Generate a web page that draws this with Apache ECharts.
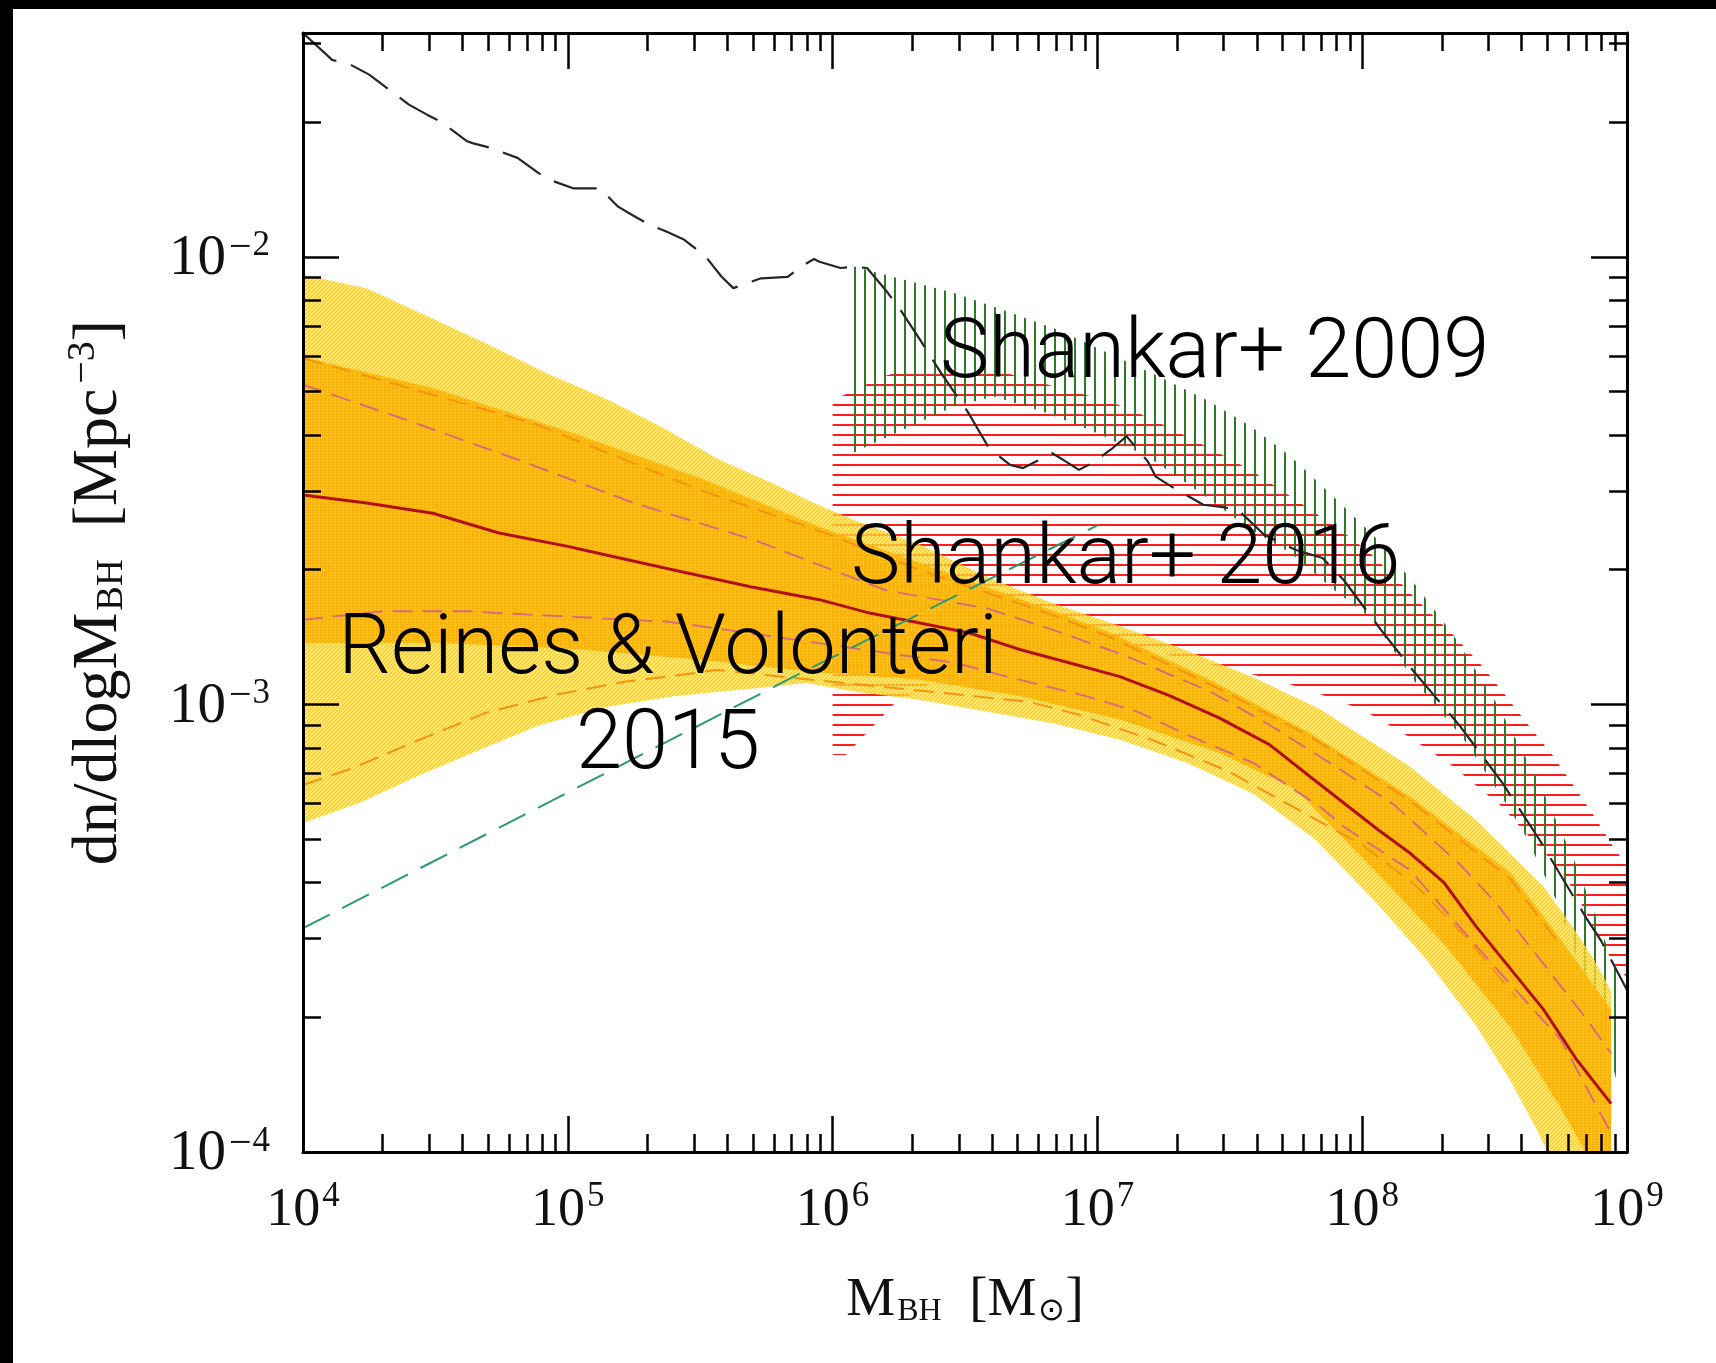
<!DOCTYPE html>
<html><head><meta charset="utf-8">
<script src="https://cdn.jsdelivr.net/npm/echarts@6/dist/echarts.min.js"></script>
<style>html,body{margin:0;padding:0;background:#fff}#c{width:1716px;height:1363px}</style>
</head><body><div id="c"></div>
<script>
// All values are log10(M_BH / Msun) and log10(dn/dlogM / Mpc^-3)
const xMajor = [4, 5, 6, 7, 8, 9];
const yMajor = [-4, -3, -2];

const blackDash = [[4.00,-1.50],[4.11,-1.56],[4.18,-1.571],[4.25,-1.593],[4.40,-1.66],[4.47,-1.683],[4.52,-1.698],[4.62,-1.742],[4.64,-1.746],[4.71,-1.757],[4.81,-1.779],[4.89,-1.813],[4.95,-1.832],[5.02,-1.847],[5.12,-1.847],[5.14,-1.858],[5.19,-1.888],[5.23,-1.902],[5.31,-1.929],[5.37,-1.943],[5.44,-1.962],[5.52,-1.999],[5.58,-2.044],[5.625,-2.07],[5.73,-2.048],[5.83,-2.045],[5.88,-2.022],[5.93,-2.005],[5.95,-2.011],[6.03,-2.025],[6.07,-2.023],[6.13,-2.025],[6.20,-2.074],[6.26,-2.122],[6.33,-2.185],[6.41,-2.26],[6.51,-2.346],[6.59,-2.427],[6.67,-2.465],[6.72,-2.472],[6.77,-2.457],[6.83,-2.439],[6.88,-2.457],[6.93,-2.476],[6.98,-2.461],[7.05,-2.431],[7.11,-2.401],[7.19,-2.457],[7.22,-2.491],[7.29,-2.517],[7.40,-2.554],[7.46,-2.558],[7.53,-2.565],[7.63,-2.621],[7.75,-2.655],[7.85,-2.673],[7.93,-2.722],[8.07,-2.833],[8.19,-2.923],[8.37,-3.049],[8.53,-3.176],[8.67,-3.303],[8.85,-3.481],[8.90,-3.526],[9.00,-3.638]];

const greenDash = [[4.00,-3.50],[5.88,-2.93],[7.00,-2.60]];

// Shankar+ 2009 (vertical hatch)
const greenUpper = [[6.07,-2.02],[6.27,-2.051],[6.46,-2.081],[6.66,-2.122],[6.85,-2.163],[7.04,-2.215],[7.23,-2.267],[7.42,-2.322],[7.58,-2.379],[7.73,-2.446],[7.885,-2.532],[8.04,-2.621],[8.19,-2.725],[8.34,-2.841],[8.50,-2.99],[8.66,-3.165],[8.80,-3.347],[8.92,-3.533],[8.97,-3.61]];
const greenLower = [[6.07,-2.44],[6.27,-2.385],[6.46,-2.334],[6.61,-2.312],[6.81,-2.349],[7.00,-2.394],[7.19,-2.446],[7.38,-2.524],[7.58,-2.61],[7.73,-2.662],[7.885,-2.74],[8.04,-2.811],[8.20,-2.95],[8.38,-3.075],[8.53,-3.209],[8.615,-3.291],[8.735,-3.44],[8.80,-3.548],[8.886,-3.682],[8.97,-3.86]];

// Shankar+ 2016 (horizontal hatch)
const redUpper = [[6.00,-2.319],[6.10,-2.295],[6.17,-2.27],[6.30,-2.25],[6.60,-2.25],[6.75,-2.275],[6.90,-2.30],[7.03,-2.32],[7.13,-2.342],[7.29,-2.387],[7.44,-2.433],[7.58,-2.477],[7.70,-2.524],[7.815,-2.569],[7.93,-2.616],[8.03,-2.662],[8.13,-2.72],[8.23,-2.78],[8.344,-2.845],[8.45,-2.912],[8.54,-2.979],[8.63,-3.048],[8.72,-3.115],[8.80,-3.183],[8.88,-3.253],[8.95,-3.32],[9.00,-3.36]];
const redLower = [[6.00,-3.113],[6.05,-3.113],[6.23,-3.00],[6.36,-2.956],[6.60,-2.912],[6.90,-2.88],[7.20,-2.88],[7.50,-2.92],[7.72,-2.954],[7.85,-2.979],[7.95,-3.001],[8.04,-3.025],[8.17,-3.07],[8.34,-3.137],[8.53,-3.23],[8.60,-3.276],[8.67,-3.32],[8.75,-3.37],[8.82,-3.437],[8.90,-3.53],[8.955,-3.582],[9.00,-3.61]];

// Reines & Volonteri 2015
const outerUpper = [[4.00,-2.04],[4.24,-2.07],[4.47,-2.133],[4.69,-2.193],[4.92,-2.26],[5.15,-2.319],[5.35,-2.379],[5.575,-2.454],[5.80,-2.513],[5.93,-2.55],[6.08,-2.588],[6.33,-2.643],[6.58,-2.714],[6.83,-2.774],[7.085,-2.825],[7.34,-2.88],[7.59,-2.94],[7.84,-3.01],[8.18,-3.139],[8.43,-3.258],[8.685,-3.407],[8.81,-3.511],[8.876,-3.571],[8.94,-3.64]];
const outerLower = [[4.00,-3.265],[4.215,-3.22],[4.43,-3.161],[4.67,-3.101],[4.895,-3.046],[5.15,-3.005],[5.40,-2.982],[5.65,-2.967],[5.90,-2.952],[6.08,-2.971],[6.33,-2.99],[6.58,-3.016],[6.83,-3.042],[7.085,-3.079],[7.34,-3.131],[7.59,-3.20],[7.82,-3.30],[8.055,-3.444],[8.244,-3.571],[8.433,-3.72],[8.558,-3.839],[8.659,-3.95],[8.70,-4.0],[8.80,-4.12],[8.94,-4.3]];
const innerUpper = [[4.00,-2.225],[4.49,-2.293],[5.00,-2.39],[5.50,-2.494],[5.95,-2.603],[6.33,-2.684],[6.83,-2.79],[7.05,-2.84],[7.425,-2.945],[7.80,-3.063],[8.18,-3.206],[8.56,-3.376],[8.75,-3.526],[8.94,-3.682]];
const innerLower = [[4.00,-2.863],[4.50,-2.862],[5.00,-2.875],[5.50,-2.90],[5.95,-2.929],[6.33,-2.945],[6.71,-2.982],[7.085,-3.034],[7.46,-3.108],[7.75,-3.19],[8.055,-3.376],[8.306,-3.533],[8.558,-3.72],[8.747,-3.899],[8.872,-4.03],[8.94,-4.1]];
const solidRed = [[4.00,-2.532],[4.24,-2.55],[4.49,-2.573],[4.74,-2.617],[5.00,-2.647],[5.06,-2.655],[5.37,-2.696],[5.69,-2.737],[5.95,-2.766],[6.14,-2.796],[6.33,-2.818],[6.52,-2.841],[6.71,-2.878],[6.90,-2.908],[7.085,-2.938],[7.27,-2.98],[7.46,-3.03],[7.65,-3.09],[7.80,-3.16],[8.06,-3.28],[8.18,-3.332],[8.31,-3.399],[8.43,-3.496],[8.685,-3.682],[8.81,-3.794],[8.94,-3.892]];
const pinkUpper = [[4.00,-2.286],[4.37,-2.36],[4.81,-2.453],[5.25,-2.55],[5.70,-2.632],[6.20,-2.745],[6.58,-2.785],[6.83,-2.833],[7.10,-2.89],[7.425,-2.971],[7.65,-3.046],[7.90,-3.139],[8.12,-3.224],[8.37,-3.358],[8.50,-3.44],[8.85,-3.705],[8.94,-3.78]];
const pinkLower = [[4.00,-2.811],[4.30,-2.792],[4.62,-2.792],[4.87,-2.80],[5.37,-2.815],[5.56,-2.83],[6.46,-2.907],[6.68,-2.941],[6.96,-2.982],[7.15,-3.016],[7.34,-3.068],[7.59,-3.131],[7.84,-3.228],[7.93,-3.273],[8.18,-3.37],[8.50,-3.586],[8.75,-3.749],[8.94,-3.958]];
const orangeUpper = [[4.00,-2.226],[4.87,-2.372],[5.50,-2.521],[5.94,-2.61],[6.33,-2.70],[6.83,-2.80],[7.05,-2.85],[7.425,-2.955],[7.80,-3.07],[8.18,-3.215],[8.56,-3.39],[8.75,-3.54]];
const orangeLower = [[4.00,-3.18],[4.19,-3.142],[4.44,-3.079],[4.69,-3.019],[4.95,-2.979],[5.22,-2.949],[5.48,-2.93],[5.56,-2.923],[6.74,-2.994],[6.93,-3.023],[7.21,-3.08],[7.49,-3.148],[8.00,-3.314],[8.20,-3.403],[8.395,-3.522],[8.584,-3.656]];

// tick positions
const xMinor = [], yMinor = [];
for (let d = 4; d < 9; d++) for (let k = 2; k <= 9; k++) xMinor.push(d + Math.log10(k));
for (let d = -4; d < -1; d++) for (let k = 2; k <= 9; k++) { const t = d + Math.log10(k); if (t <= -1.5) yMinor.push(t); }

function pattern(w, h, bg, draw) {
  const c = document.createElement('canvas'); c.width = w; c.height = h;
  const g = c.getContext('2d');
  if (bg) { g.fillStyle = bg; g.fillRect(0, 0, w, h); }
  draw(g);
  return { image: c, repeat: 'repeat' };
}
const greenHatch = pattern(10, 10, null, g => { g.fillStyle = '#2f7a26'; g.fillRect(4, 0, 2, 10); });
const redHatch = pattern(10, 10, null, g => { g.fillStyle = '#ff1c1c'; g.fillRect(0, 4, 10, 2); });
const outerFill = pattern(4, 4, 'rgba(255,228,110,0.6)', g => {
  g.strokeStyle = '#ffcd10'; g.lineWidth = 1.5;
  g.beginPath(); g.moveTo(-1, 5); g.lineTo(5, -1); g.moveTo(-1, 1); g.lineTo(1, -1); g.moveTo(3, 5); g.lineTo(5, 3); g.stroke();
});
const innerFill = pattern(4, 4, null, g => {
  g.fillStyle = '#ffb30a'; g.fillRect(0, 0, 4, 4);
  g.clearRect(1, 1, 1, 1); g.clearRect(3, 3, 1, 1);
  g.fillStyle = 'rgba(255,220,120,0.9)'; g.fillRect(3, 1, 1, 1);
});

function band(name, upper, lower, fill, z) {
  return {
    type: 'custom', name: name, z: z, clip: true, silent: true,
    data: [[upper[0][0], upper[0][1]]],
    renderItem: function (params, api) {
      const pts = upper.map(p => api.coord(p)).concat(lower.slice().reverse().map(p => api.coord(p)));
      return { type: 'polygon', shape: { points: pts }, style: { fill: fill, stroke: null } };
    }
  };
}
function line(name, data, color, width, type, z) {
  return { type: 'line', name: name, data: data, z: z, symbol: 'none', silent: true, clip: true,
    lineStyle: { color: color, width: width, type: type }, animation: false };
}

const serif = 'Liberation Serif';
const xRich = {
  b: { fontFamily: serif, fontSize: 54, lineHeight: 62, color: '#111', verticalAlign: 'bottom' },
  s: { fontFamily: serif, fontSize: 35, lineHeight: 35, color: '#111', verticalAlign: 'top', padding: [3, 0, 0, 2] }
};
const yRich = {
  b: { fontFamily: serif, fontSize: 57, lineHeight: 62, color: '#111', verticalAlign: 'bottom' },
  m: { fontFamily: serif, fontSize: 40, lineHeight: 35, color: '#111', verticalAlign: 'top', padding: [3, 1, 0, 3] },
  s: { fontFamily: serif, fontSize: 35, lineHeight: 35, color: '#111', verticalAlign: 'top', padding: [3, 0, 0, 0] }
};
function xAx(pos, ticks, len, main, label) {
  return {
    type: 'value', min: 4, max: 9, position: pos, z: 50, splitLine: { show: false },
    axisLine: { show: main, onZero: false, lineStyle: { color: '#000', width: 3 } },
    axisTick: { show: true, inside: true, length: len, customValues: ticks, lineStyle: { color: '#000', width: 2.5 } },
    axisLabel: label ? { show: true, customValues: xMajor, margin: 24, formatter: v => '{b|10}{s|' + v + '}', rich: xRich } : { show: false }
  };
}
function yAx(pos, ticks, len, main, label) {
  return {
    type: 'value', min: -4, max: -1.5, position: pos, z: 50, splitLine: { show: false },
    axisLine: { show: main, onZero: false, lineStyle: { color: '#000', width: 3 } },
    axisTick: { show: true, inside: true, length: len, customValues: ticks, lineStyle: { color: '#000', width: 2.5 } },
    axisLabel: label ? { show: true, customValues: yMajor, margin: 33, formatter: v => '{b|10}{m|\u2212}{s|' + Math.abs(v) + '}', rich: yRich } : { show: false }
  };
}

const xA = [xAx('bottom', xMajor, 36, true, true), xAx('bottom', xMinor, 18, false, false), xAx('top', xMajor, 36, true, false), xAx('top', xMinor, 18, false, false)];
xA[0].name = '{m|M}{sub|BH}{m|  [M}{sub|\u2299}{m|]}';
xA[0].nameLocation = 'middle'; xA[0].nameGap = 110;
xA[0].nameTextStyle = { rich: {
  m: { fontFamily: serif, fontSize: 55, lineHeight: 66, color: '#111', verticalAlign: 'bottom' },
  sub: { fontFamily: serif, fontSize: 32, lineHeight: 20, color: '#111', verticalAlign: 'bottom', padding: [0, 0, 0, 2] } } };
const yA = [yAx('left', yMajor, 36, true, true), yAx('left', yMinor, 18, false, false), yAx('right', yMajor, 36, true, false), yAx('right', yMinor, 18, false, false)];
yA[0].name = '{m|dn/dlogM}{sub|BH}{m|  [Mpc}{sup|\u22123}{m|]}';
yA[0].nameLocation = 'middle'; yA[0].nameGap = 172;
yA[0].nameTextStyle = { rich: {
  m: { fontFamily: serif, fontSize: 64, lineHeight: 74, color: '#111', verticalAlign: 'bottom' },
  sub: { fontFamily: serif, fontSize: 37, lineHeight: 22, color: '#111', verticalAlign: 'bottom', padding: [0, 0, 0, 2] },
  sup: { fontFamily: serif, fontSize: 40, lineHeight: 40, color: '#111', verticalAlign: 'top', padding: [6, 0, 0, 5] } } };

const annFont = 'Roboto';
const annStyle = (t, align) => ({ text: t, font: '300 83px ' + annFont, fill: '#000', verticalAlign: 'middle', align: align });
const option = {
  backgroundColor: '#fff',
  animation: false,
  grid: { left: 303, right: 89, top: 33, bottom: 211, containLabel: false },
  xAxis: xA,
  yAxis: yA,
  series: [
    band('Shankar+ 2016', redUpper, redLower, redHatch, 1),
    band('Shankar+ 2009', greenUpper, greenLower, greenHatch, 2),
    line('total', blackDash, '#262626', 2.2, [44, 15], 3),
    band('RV15 outer', outerUpper, outerLower, outerFill, 4),
    band('RV15 inner', innerUpper, innerLower, innerFill, 5),
    line('orange up', orangeUpper, '#f29410', 2, [20, 10], 6),
    line('orange low', orangeLower, '#f29410', 2, [20, 10], 6),
    line('pink up', pinkUpper, '#d46f78', 2, [20, 10], 6),
    line('pink low', pinkLower, '#d46f78', 2, [20, 10], 6),
    line('RV15', solidRed, '#b0101a', 3, 'solid', 7),
    line('green', greenDash, '#2a9a72', 2, [30, 14], 8)
  ],
  graphic: [
    { type: 'rect', left: 0, top: 0, shape: { width: 13, height: 1363 }, style: { fill: '#000' }, z: 100 },
    { type: 'rect', left: 0, top: 0, shape: { width: 1716, height: 9 }, style: { fill: '#000' }, z: 100 },
    { type: 'text', x: 940, y: 356, z: 100, style: annStyle('Shankar+ 2009', 'left') },
    { type: 'text', x: 851, y: 562, z: 100, style: annStyle('Shankar+ 2016', 'left') },
    { type: 'text', x: 668, y: 652, z: 100, style: annStyle('Reines & Volonteri', 'center') },
    { type: 'text', x: 668, y: 747, z: 100, style: annStyle('2015', 'center') }
  ]
};
const chart = echarts.init(document.getElementById('c'), null, { renderer: 'canvas' });
chart.setOption(option);
</script></body></html>
